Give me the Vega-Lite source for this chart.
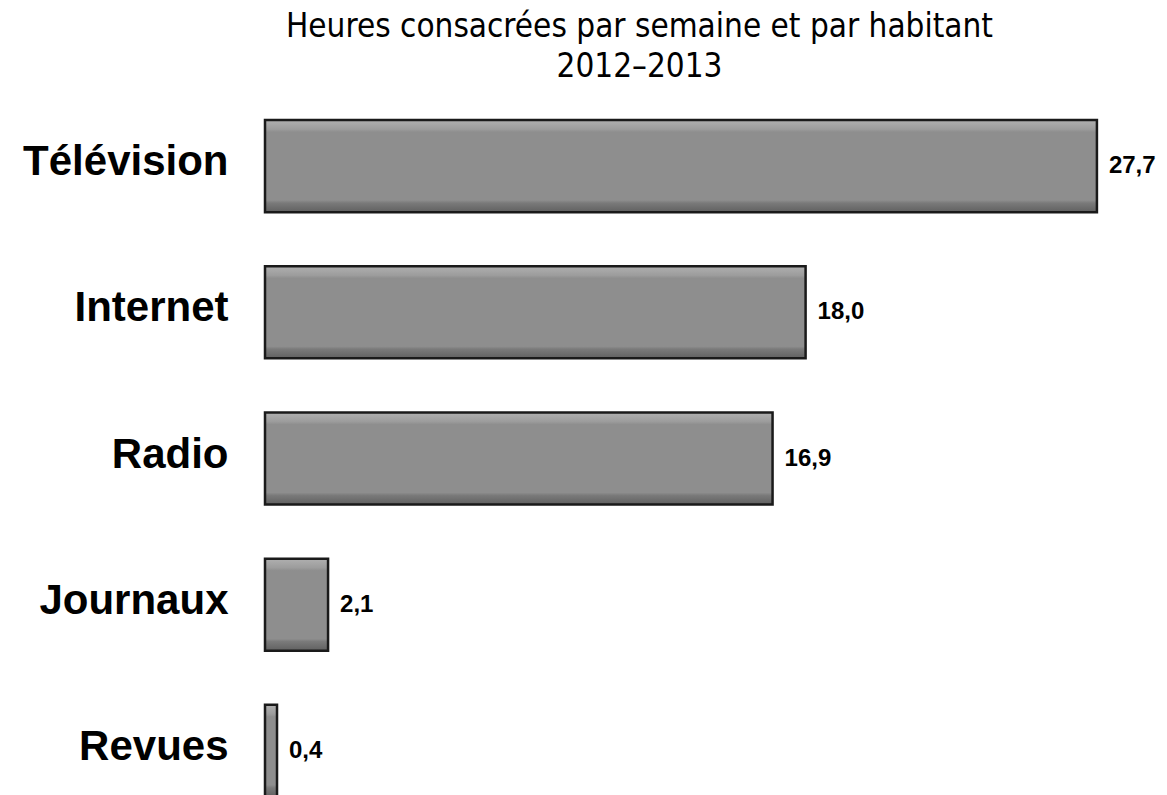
{
  "$schema": "https://vega.github.io/schema/vega-lite/v6.json",
  "autosize": "none",
  "width": 901,
  "height": 731,
  "padding": {"left": 265, "top": 93, "right": 1, "bottom": 0},
  "background": "white",
  "title": {
    "text": ["Heures consacrées par semaine et par habitant", "2012–2013"],
    "font": "DejaVu Sans Condensed",
    "fontSize": 33,
    "fontWeight": "normal",
    "color": "#000000",
    "anchor": "middle",
    "dx": -76,
    "offset": 9,
    "lineHeight": 40
  },
  "config": {
    "view": {"stroke": null},
    "locale": {"number": {"decimal": ",", "thousands": " ", "grouping": [3], "currency": ["", " €"]}}
  },
  "data": {
    "values": [
      {"media": "Télévision", "heures": 27.7},
      {"media": "Internet", "heures": 18.0},
      {"media": "Radio", "heures": 16.9},
      {"media": "Journaux", "heures": 2.1},
      {"media": "Revues", "heures": 0.4}
    ]
  },
  "encoding": {
    "y": {
      "field": "media",
      "type": "nominal",
      "sort": null,
      "scale": {"paddingInner": 0.37, "paddingOuter": 0.185},
      "axis": {
        "title": null,
        "domain": false,
        "ticks": false,
        "labelFont": "Liberation Sans",
        "labelFontWeight": "bold",
        "labelFontSize": 42,
        "labelColor": "#000000",
        "labelPadding": 37,
        "labelLimit": 400,
        "labelOffset": -4
      }
    },
    "x": {
      "field": "heures",
      "type": "quantitative",
      "scale": {"domain": [0, 30]},
      "axis": null
    }
  },
  "layer": [
    {
      "mark": {
        "type": "bar",
        "stroke": "#1a1a1a",
        "strokeWidth": 2.5,
        "color": {
          "gradient": "linear",
          "x1": 0, "y1": 0, "x2": 0, "y2": 1,
          "stops": [
            {"offset": 0, "color": "#b0b0b0"},
            {"offset": 0.1, "color": "#9c9c9c"},
            {"offset": 0.13, "color": "#8e8e8e"},
            {"offset": 0.87, "color": "#8e8e8e"},
            {"offset": 0.9, "color": "#7a7a7a"},
            {"offset": 1, "color": "#606060"}
          ]
        }
      }
    },
    {
      "mark": {
        "type": "text",
        "align": "left",
        "baseline": "middle",
        "dx": 12,
        "font": "Liberation Sans",
        "fontWeight": "bold",
        "fontSize": 24,
        "color": "#000000"
      },
      "encoding": {
        "text": {"field": "heures", "type": "quantitative", "format": ".1f"}
      }
    }
  ]
}
